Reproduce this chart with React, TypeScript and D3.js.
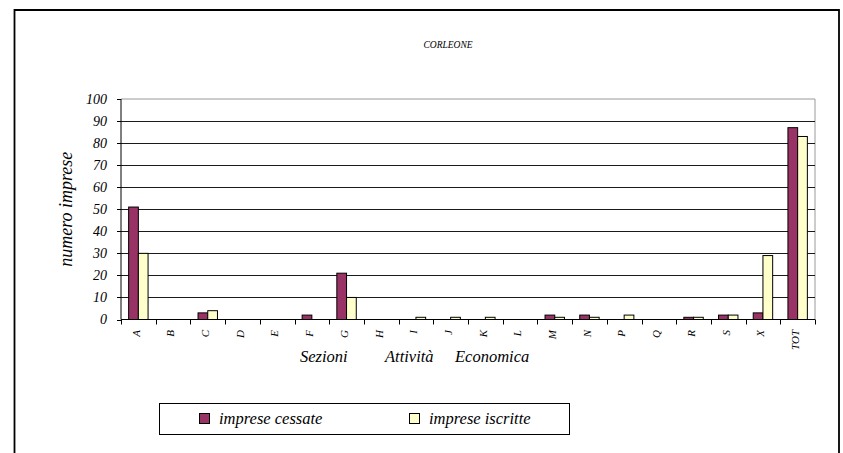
import React from "react";
import * as d3 from "d3";

const categories = ["A","B","C","D","E","F","G","H","I","J","K","L","M","N","P","Q","R","S","X","TOT"];
const cessate = [51,0,3,0,0,2,21,0,0,0,0,0,2,2,0,0,1,2,3,87];
const iscritte = [30,0,4,0,0,0,10,0,1,1,1,0,1,1,2,0,1,2,29,83];
const yTicks = [0,10,20,30,40,50,60,70,80,90,100];
const seriesNames = ["imprese cessate","imprese iscritte"];
const colors = ["#993366","#FFFFCC"];

function T(props: any) {
  const { children, ...rest } = props;
  return <text {...rest} className="st" fontFamily="Liberation Serif" fontStyle="italic">{children}</text>;
}

export default function App() {
  const W = 843, H = 453;
  const left = 121, right = 815, top = 99, bottom = 319.5;
  const x = d3.scaleBand<string>().domain(categories).range([left, right]).paddingInner(0).paddingOuter(0);
  const y = d3.scaleLinear().domain([0, 100]).range([bottom, top]);
  const bw = x.bandwidth();
  const barW = bw * 0.28;
  const groupOff = (bw - 2 * barW) / 2;
  const series = [cessate, iscritte];

  return (
    <svg width={W} height={H} style={{ position: "absolute", left: 0, top: 0, background: "#fff" }}>
      <style>{`.st, .st tspan { font-family: "Liberation Serif", "Times New Roman", Tinos, serif !important; font-style: italic; }`}</style>
      <rect x={0} y={0} width={W} height={H} fill="#fff" />
      {/* outer frame */}
      <path d={`M14.5,${H + 2} L14.5,10 L839,10 L839,${H + 2}`} fill="none" stroke="#000" strokeWidth={1.8} />
      <T x={448} y={48} textAnchor="middle" fontSize={9.5}>CORLEONE</T>

      {/* plot border */}
      <path d={`M${left},${top} L${right},${top} L${right},${bottom}`} fill="none" stroke="#999" strokeWidth={1} />
      {/* gridlines */}
      {yTicks.filter(t => t > 0 && t < 100).map(t => (
        <line key={t} x1={left} x2={right} y1={Math.round(y(t)) + 0.5} y2={Math.round(y(t)) + 0.5} stroke="#1a1a1a" strokeWidth={1} />
      ))}
      {/* y axis */}
      <line x1={left} x2={left} y1={top} y2={bottom} stroke="#000" strokeWidth={1} />
      {yTicks.map(t => (
        <g key={t}>
          <line x1={left - 4} x2={left} y1={Math.round(y(t)) + 0.5} y2={Math.round(y(t)) + 0.5} stroke="#000" />
          <T x={left - 14} y={y(t)} dy="0.35em" textAnchor="end" fontSize={14}>{t}</T>
        </g>
      ))}
      <T transform={`translate(72,${(top + bottom) / 2}) rotate(-90)`} textAnchor="middle" fontSize={18}>numero imprese</T>

      {/* bars */}
      {categories.map((c, i) => (
        <g key={c}>
          {series.map((s, k) => {
            const v = s[i];
            if (v <= 0) return null;
            const bx = (x(c) as number) + groupOff + k * barW;
            return <rect key={k} x={bx} y={y(v)} width={barW} height={bottom - y(v)} fill={colors[k]} stroke="#000" strokeWidth={1} />;
          })}
        </g>
      ))}

      {/* x axis */}
      <line x1={left} x2={right} y1={bottom} y2={bottom} stroke="#000" strokeWidth={1} />
      {categories.concat(["_end"]).map((c, i) => {
        const tx = Math.round(left + i * bw) + 0.5;
        return <line key={c} x1={tx} x2={tx} y1={bottom} y2={bottom + 5} stroke="#000" />;
      })}
      {categories.map(c => {
        const cx = (x(c) as number) + bw / 2;
        return (
          <T key={c} transform={`translate(${cx},330) rotate(-90)`} dy="0.12em" textAnchor="end" fontSize={11}>{c}</T>
        );
      })}
      <T y={362} fontSize={16.5}>
        <tspan x={300}>Sezioni</tspan>
        <tspan x={385}>Attività</tspan>
        <tspan x={455}>Economica</tspan>
      </T>

      {/* legend */}
      <rect x={159.5} y={403.5} width={410} height={31} fill="#fff" stroke="#000" strokeWidth={1} />
      {seriesNames.map((n, k) => {
        const mx = k === 0 ? 199 : 409;
        return (
          <g key={n}>
            <rect x={mx + 0.5} y={413.5} width={10} height={10} fill={colors[k]} stroke="#000" strokeWidth={1} />
            <T x={mx + 20} y={423.5} fontSize={16.5}>{n}</T>
          </g>
        );
      })}
    </svg>
  );
}
